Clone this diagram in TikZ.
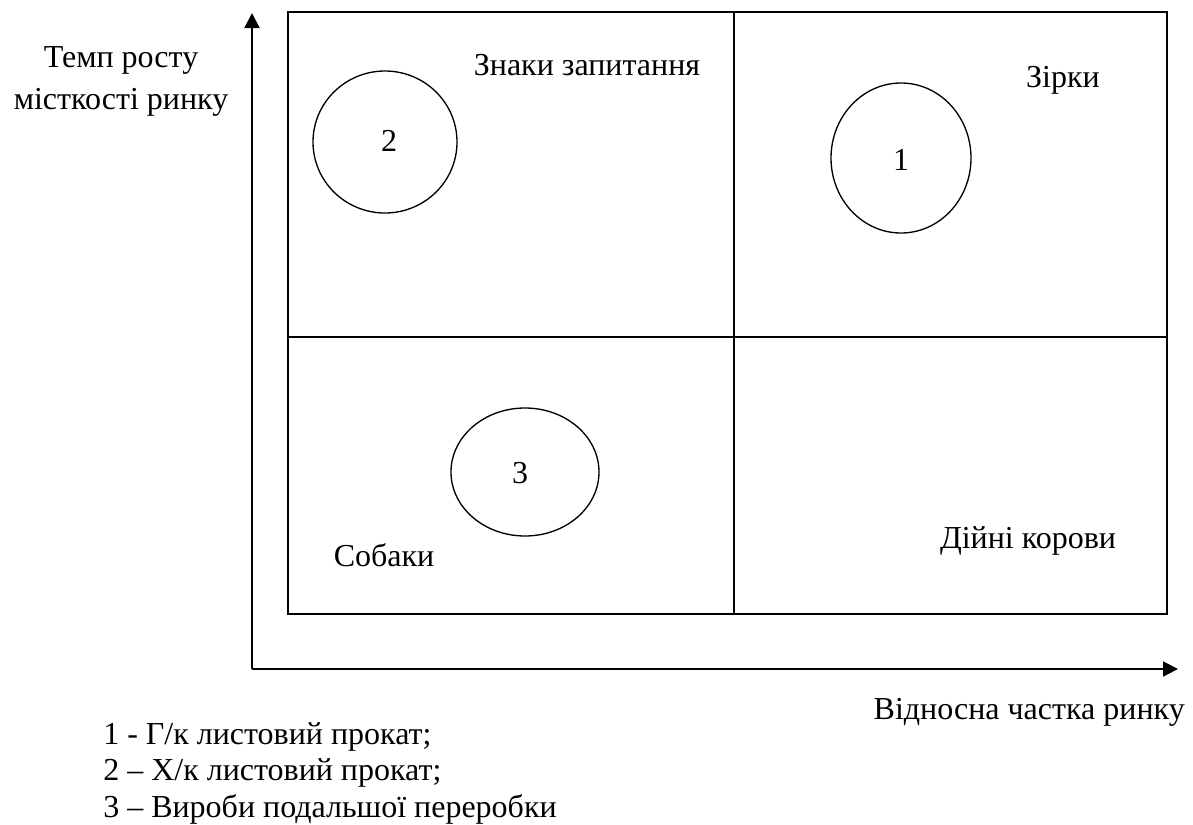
\documentclass[tikz,border=0pt]{standalone}
\usepackage{fontspec}
\setmainfont{Liberation Serif}
\usetikzlibrary{arrows.meta,shapes.geometric}
\tikzset{
  frame/.style={line width=1.5pt},
  axis/.style={line width=1.5pt,-{Triangle[length=11.25pt,width=11.25pt]}},
  unit/.style={draw,line width=1pt,ellipse,inner sep=0pt},
  lbl/.style={inner sep=0pt,font=\fontsize{24}{27.6}\selectfont},
}
\begin{document}
\begin{tikzpicture}[x=0.75pt,y=-0.75pt]
\useasboundingbox (0,0) rectangle (1193,825);
% axes
\coordinate (o) at (252,669);
\coordinate (ytip) at (252,13);
\coordinate (xtip) at (1178,669);
\draw[axis] (o) -- (ytip);
\draw[axis] (o) -- (xtip);
% matrix grid
\draw[frame] (288,12) rectangle (1167,614);
\draw[frame] (734,12) -- (734,614);
\draw[frame] (288,337) -- (1167,337);
% products
\node[unit,minimum width=108pt,minimum height=106.5pt] (c2) at (385,142) {};
\node[unit,minimum width=105pt,minimum height=112.5pt] (c1) at (901,158) {};
\node[unit,minimum width=111pt,minimum height=96pt] (c3) at (525,472) {};
\node[lbl] (n2) at (389,141) {2};
\node[lbl] (n1) at (901,160) {1};
\node[lbl] (n3) at (520,473) {3};
% quadrant names
\node[lbl,anchor=base] (q1) at (587,75) {Знаки запитання};
\node[lbl,anchor=base] (q2) at (1063,87) {Зірки};
\node[lbl,anchor=base] (q3) at (384,566) {Собаки};
\node[lbl,anchor=base] (q4) at (1028,548) {Дійні корови};
% axis titles
\node[lbl,align=center,anchor=base,font=\fontsize{24}{31}\selectfont] (ty) at (121,109) {Темп росту\\місткості ринку};
\node[lbl,anchor=base east] (tx) at (1185,719) {Відносна частка ринку};
% legend
\node[lbl,anchor=base west] (l1) at (103,744) {1 - Г/к листовий прокат;};
\node[lbl,anchor=base west] (l2) at (103,780) {2 – Х/к листовий прокат;};
\node[lbl,anchor=base west] (l3) at (103,817) {3 – Вироби подальшої переробки};
\end{tikzpicture}
\end{document}
